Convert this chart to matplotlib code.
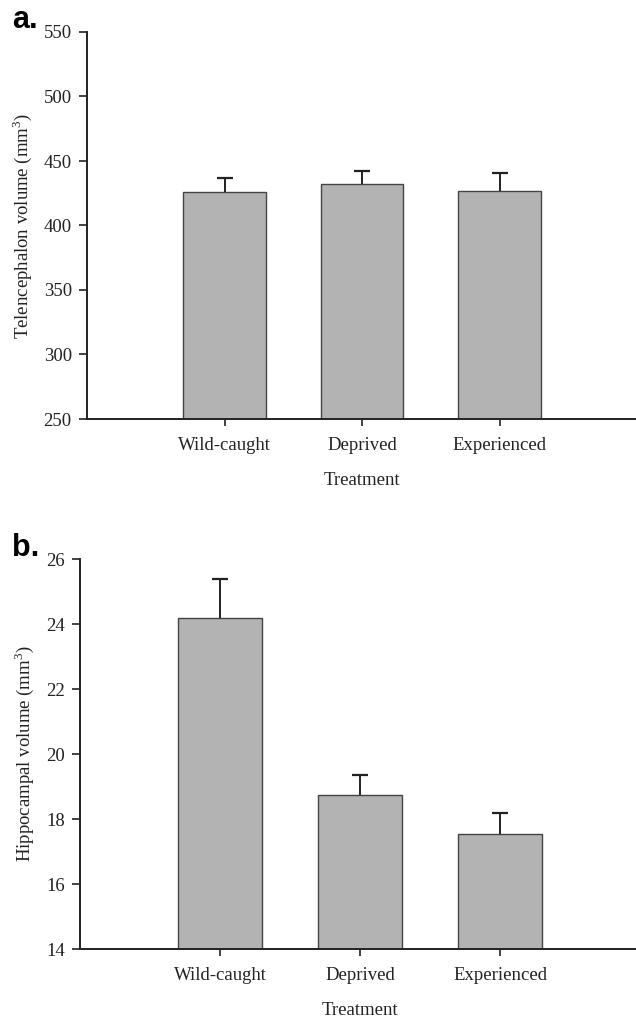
import matplotlib
matplotlib.use("Agg")
import matplotlib.pyplot as plt

plt.rcParams['font.family'] = ['Liberation Serif', 'DejaVu Serif']
plt.rcParams['mathtext.fontset'] = 'custom'
plt.rcParams['mathtext.rm'] = 'Liberation Serif'

# donnees
traitements = ["Wild-caught", "Deprived", "Experienced"]
telencephale = [426, 432, 427]
telencephale_err = [11, 10, 14]
hippocampe = [24.2, 18.75, 17.55]
hippocampe_err = [1.2, 0.6, 0.65]


def panneau(ax, valeurs, erreurs, ymin, ymax, pas, titreY):
    x = list(range(len(traitements)))
    ax.bar(x, [v - ymin for v in valeurs], bottom=ymin, width=0.6,
           color="#b3b3b3", edgecolor="#444444", linewidth=1.0, zorder=2)
    # barre d'erreur vers le haut seulement
    ax.errorbar(x, valeurs, yerr=[[0] * len(erreurs), erreurs], fmt="none",
                ecolor="#222222", elinewidth=1.4, capsize=0, zorder=3)
    hauts = [v + e for v, e in zip(valeurs, erreurs)]
    ax.plot(x, hauts, linestyle="none", marker="_", markersize=11,
            markeredgewidth=1.6, color="#222222", zorder=3)
    ax.set_xlim(-1, 3)
    ax.set_ylim(ymin, ymax)
    yt = []
    v = ymin
    while v <= ymax + 1e-9:
        yt.append(v)
        v += pas
    ax.set_yticks(yt)
    ax.set_xticks(x)
    ax.set_xticklabels(traitements)
    for s in ["top", "right"]:
        ax.spines[s].set_visible(False)
    for s in ["left", "bottom"]:
        ax.spines[s].set_linewidth(1.4)
        ax.spines[s].set_color("#222222")
    ax.tick_params(axis="y", direction="out", length=6, width=1.2, pad=5,
                   labelsize=13.5, colors="#222222")
    ax.tick_params(axis="x", direction="out", length=5, width=1.2, pad=8,
                   labelsize=13.5, colors="#222222")
    ax.set_xlabel("Treatment", fontsize=13.5, labelpad=13, color="#222222")
    ax.set_ylabel(titreY, fontsize=13.5, labelpad=7, color="#222222")
    ax.patch.set_visible(False)


fig = plt.figure(figsize=(6.36, 10.22), dpi=100)
ax1 = fig.add_axes([87 / 636, 1 - 419 / 1022, 550 / 636, 387 / 1022])
ax2 = fig.add_axes([80 / 636, 1 - 949 / 1022, 560 / 636, 390 / 1022])

panneau(ax1, telencephale, telencephale_err, 250, 550, 50,
        "Telencephalon volume (mm$^3$)")
panneau(ax2, hippocampe, hippocampe_err, 14, 26, 2,
        "Hippocampal volume (mm$^3$)")

fig.text(12 / 636, 1 - 28 / 1022, "a.", family="Liberation Sans",
         fontweight="bold", fontsize=22)
fig.text(12 / 636, 1 - 556 / 1022, "b.", family="Liberation Sans",
         fontweight="bold", fontsize=22)

fig.savefig("out.png", dpi=100)
